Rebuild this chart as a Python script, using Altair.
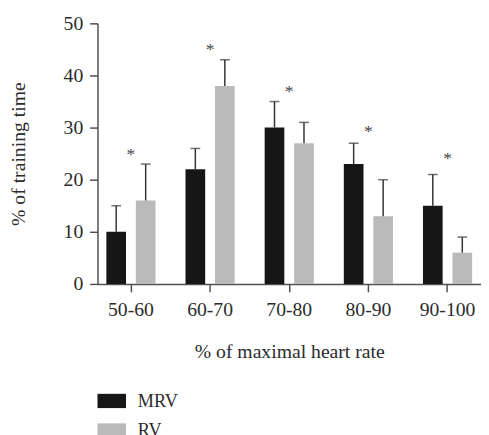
import altair as alt
import pandas as pd

categories = ["50-60", "60-70", "70-80", "80-90", "90-100"]
groups = ["MRV", "RV"]
mrv_values = [10, 22, 30, 23, 15]
rv_values = [16, 38, 27, 13, 6]
mrv_err_top = [15, 26, 35, 27, 21]
rv_err_top = [23, 43, 31, 20, 9]
star_values = [25.5, 45.7, 37.5, 29.8, 24.7]
y_ticks = [0, 10, 20, 30, 40, 50]

rows = []
for i, c in enumerate(categories):
    rows.append({"cat": c, "group": "MRV", "value": mrv_values[i], "top": mrv_err_top[i]})
    rows.append({"cat": c, "group": "RV", "value": rv_values[i], "top": rv_err_top[i]})
df = pd.DataFrame(rows)
stars = pd.DataFrame({"cat": categories, "y": star_values})

FONT = "Liberation Serif"
TEXT = "#2b2b2b"
LINE = "#505050"

x = alt.X(
    "cat:N",
    sort=categories,
    scale=alt.Scale(paddingInner=0.3789, paddingOuter=0.112),
    axis=alt.Axis(
        title="% of maximal heart rate",
        labelAngle=0,
        tickSize=8,
        labelPadding=8,
        labelFontSize=20,
        titleFontSize=20,
        titlePadding=23,
    ),
)
xoff = alt.XOffset("group:N", sort=groups, scale=alt.Scale(paddingInner=1 / 3, paddingOuter=0))
y_axis = alt.Axis(
    title="% of training time",
    values=y_ticks,
    tickSize=8,
    labelPadding=7,
    labelFontSize=20,
    titleFontSize=20,
    titlePadding=35,
)
y_scale = alt.Scale(domain=[0, 50], nice=False)
y = alt.Y("value:Q", scale=y_scale, axis=y_axis)

base = alt.Chart(df)

bars = base.mark_bar().encode(
    x=x,
    xOffset=xoff,
    y=y,
    color=alt.Color(
        "group:N",
        sort=groups,
        scale=alt.Scale(domain=groups, range=["#161616", "#bababa"]),
        legend=alt.Legend(
            title=None,
            orient="none",
            legendX=0,
            legendY=369.5,
            direction="vertical",
            padding=0,
            rowPadding=6,
            symbolType="M-1,-0.5H1V0.5H-1Z",
            symbolSize=841,
            symbolStrokeWidth=0,
            symbolOpacity=1,
            labelOffset=12,
            labelFontSize=18.5,
            labelFont=FONT,
            labelColor=TEXT,
        ),
    ),
)

rules = base.mark_rule(color="#333333", strokeWidth=1.5).encode(
    x=x, xOffset=xoff, y=y, y2=alt.Y2("top:Q")
)

caps = base.mark_tick(color="#333333", thickness=1.5, size=10, orient="horizontal").encode(
    x=x, xOffset=xoff, y=alt.Y("top:Q", scale=y_scale, axis=y_axis)
)

star_marks = alt.Chart(stars).mark_text(
    text="*", font=FONT, fontSize=18, color="#444444", baseline="alphabetic", dy=9
).encode(
    x=alt.X("cat:N", sort=categories),
    y=alt.Y("y:Q", scale=y_scale, axis=y_axis),
)

chart = (
    alt.layer(bars, rules, caps, star_marks)
    .properties(
        width=390,
        height=265,
        padding={"left": 91, "top": 12, "right": 0, "bottom": 150},
        autosize=alt.AutoSizeParams(type="none"),
        background="white",
    )
    .configure_view(stroke=None)
    .configure_axis(
        grid=False,
        domainColor=LINE,
        tickColor=LINE,
        domainWidth=1.5,
        tickWidth=1.5,
        labelColor=TEXT,
        titleColor=TEXT,
        labelFont=FONT,
        titleFont=FONT,
        titleFontWeight="normal",
    )
)

chart.save("out.html", embed_options={"renderer": "svg", "actions": False})
